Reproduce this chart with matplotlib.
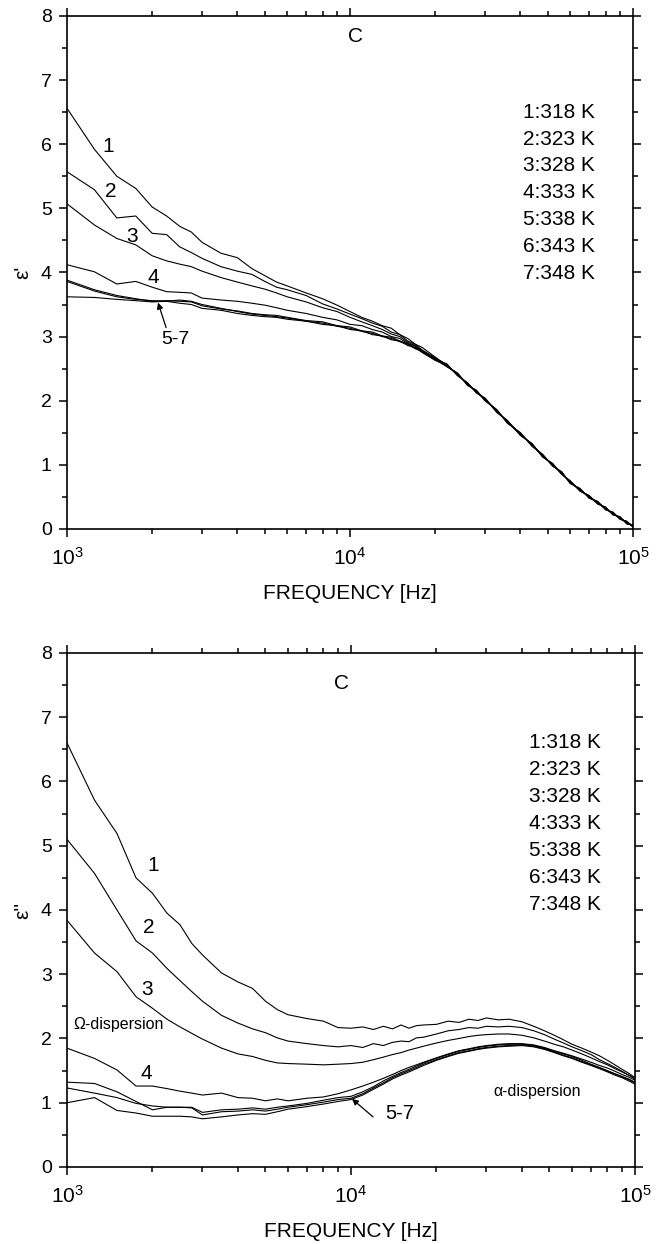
import matplotlib
matplotlib.use("Agg")
import matplotlib.pyplot as plt
from matplotlib.ticker import MultipleLocator, LogLocator, NullFormatter

plt.rcParams['font.family'] = ['Liberation Sans', 'DejaVu Sans']
plt.rcParams['mathtext.fontset'] = 'custom'
plt.rcParams['mathtext.rm'] = 'Liberation Sans'
plt.rcParams['mathtext.it'] = 'Liberation Sans:italic'

# ---------------- data ----------------
freq_head = [1000, 1250, 1500, 1750, 2000, 2250, 2500, 2750, 3000, 3500, 4000, 4500,
             5000, 5500, 6000, 7000, 8000, 9000, 10000, 11000, 12000, 13000, 14000,
             15000, 16000, 17000, 18000, 20000]
freq_tail = [22000, 24000, 26000, 28000, 30000, 33000, 36000, 40000, 44000, 48000,
             52000, 56000, 60000, 65000, 70000, 75000, 80000, 85000, 90000, 95000, 100000]

temps = ["1:318 K", "2:323 K", "3:328 K", "4:333 K", "5:338 K", "6:343 K", "7:348 K"]

# eps' (real part), low-frequency parts
re1 = [6.56, 5.92, 5.50, 5.31, 5.02, 4.88, 4.72, 4.63, 4.47, 4.30, 4.23, 4.06, 3.95, 3.85,
       3.79, 3.68, 3.59, 3.49, 3.39, 3.30, 3.24, 3.17, 3.13, 3.03, 2.97, 2.88, 2.83, 2.68]
re2 = [5.57, 5.29, 4.85, 4.88, 4.61, 4.59, 4.40, 4.31, 4.22, 4.09, 4.02, 3.97, 3.86, 3.77,
       3.73, 3.64, 3.51, 3.43, 3.35, 3.28, 3.21, 3.16, 3.07, 3.03, 2.93, 2.88, 2.79, 2.67]
re3 = [5.07, 4.74, 4.53, 4.43, 4.26, 4.18, 4.13, 4.09, 4.02, 3.92, 3.85, 3.79, 3.74, 3.68,
       3.62, 3.54, 3.45, 3.39, 3.30, 3.23, 3.17, 3.11, 3.04, 3.00, 2.91, 2.86, 2.77, 2.66]
re4 = [4.12, 4.01, 3.82, 3.86, 3.77, 3.70, 3.69, 3.68, 3.60, 3.57, 3.55, 3.52, 3.49, 3.45,
       3.41, 3.36, 3.30, 3.26, 3.19, 3.17, 3.11, 3.07, 3.00, 2.97, 2.89, 2.85, 2.76, 2.65]
re5 = [3.88, 3.73, 3.64, 3.59, 3.55, 3.56, 3.55, 3.54, 3.48, 3.43, 3.40, 3.36, 3.34, 3.33,
       3.30, 3.25, 3.23, 3.17, 3.15, 3.09, 3.07, 3.01, 2.99, 2.93, 2.89, 2.82, 2.78, 2.64]
re6 = [3.86, 3.71, 3.62, 3.58, 3.56, 3.55, 3.52, 3.50, 3.44, 3.41, 3.36, 3.33, 3.31, 3.30,
       3.27, 3.24, 3.19, 3.17, 3.11, 3.09, 3.03, 3.01, 2.95, 2.93, 2.86, 2.83, 2.75, 2.63]
re7 = [3.62, 3.61, 3.58, 3.56, 3.54, 3.55, 3.57, 3.55, 3.50, 3.44, 3.39, 3.35, 3.33, 3.31,
       3.29, 3.24, 3.21, 3.16, 3.13, 3.08, 3.05, 3.00, 2.97, 2.92, 2.88, 2.81, 2.77, 2.63]
# eps' high-frequency parts (curves merge)
re_tail_a = [2.55, 2.41, 2.26, 2.14, 2.02, 1.84, 1.67, 1.48, 1.31, 1.14, 1.00, 0.87, 0.73,
             0.61, 0.50, 0.41, 0.32, 0.24, 0.17, 0.10, 0.05]
re_tail_b = [2.53, 2.43, 2.24, 2.16, 2.00, 1.86, 1.65, 1.50, 1.29, 1.16, 0.98, 0.89, 0.71,
             0.63, 0.48, 0.43, 0.30, 0.26, 0.15, 0.12, 0.03]
re_tail_c = [2.57, 2.39, 2.28, 2.12, 2.04, 1.82, 1.69, 1.46, 1.33, 1.12, 1.02, 0.85, 0.75,
             0.59, 0.52, 0.39, 0.34, 0.22, 0.19, 0.08, 0.06]

# eps'' (imaginary part), full frequency range (head + tail grid)
im1 = [6.60, 5.71, 5.19, 4.50, 4.26, 3.95, 3.77, 3.48, 3.30, 3.02, 2.88, 2.78, 2.58, 2.45,
       2.37, 2.31, 2.27, 2.17, 2.16, 2.18, 2.14, 2.19, 2.15, 2.21, 2.16, 2.20, 2.21, 2.22,
       2.27, 2.25, 2.30, 2.28, 2.32, 2.29, 2.30, 2.26, 2.19, 2.12, 2.05, 1.98, 1.91, 1.85,
       1.79, 1.73, 1.66, 1.59, 1.52, 1.46, 1.39]
im2 = [5.10, 4.57, 4.00, 3.52, 3.33, 3.09, 2.90, 2.73, 2.58, 2.36, 2.24, 2.15, 2.09, 2.01,
       1.96, 1.92, 1.89, 1.87, 1.89, 1.86, 1.92, 1.89, 1.94, 1.96, 1.95, 2.01, 2.02, 2.07,
       2.12, 2.14, 2.17, 2.16, 2.19, 2.18, 2.19, 2.17, 2.12, 2.06, 1.99, 1.93, 1.87, 1.81,
       1.75, 1.67, 1.61, 1.55, 1.49, 1.43, 1.37]
im3 = [3.84, 3.33, 3.04, 2.65, 2.47, 2.30, 2.18, 2.08, 1.99, 1.85, 1.76, 1.72, 1.66, 1.62,
       1.61, 1.60, 1.59, 1.60, 1.61, 1.63, 1.67, 1.71, 1.75, 1.78, 1.82, 1.85, 1.88, 1.93,
       1.97, 2.00, 2.03, 2.05, 2.06, 2.07, 2.07, 2.05, 2.01, 1.96, 1.91, 1.87, 1.82, 1.76,
       1.70, 1.64, 1.59, 1.53, 1.48, 1.43, 1.38]
im4 = [1.85, 1.69, 1.51, 1.26, 1.26, 1.22, 1.18, 1.15, 1.12, 1.15, 1.08, 1.07, 1.03, 1.06,
       1.03, 1.07, 1.09, 1.14, 1.20, 1.26, 1.32, 1.38, 1.44, 1.50, 1.55, 1.59, 1.63, 1.70,
       1.76, 1.81, 1.84, 1.87, 1.89, 1.91, 1.92, 1.92, 1.90, 1.86, 1.81, 1.77, 1.73, 1.68,
       1.63, 1.58, 1.54, 1.49, 1.44, 1.40, 1.35]
im5 = [1.32, 1.30, 1.17, 1.02, 0.89, 0.93, 0.93, 0.93, 0.85, 0.89, 0.90, 0.92, 0.90, 0.93,
       0.95, 0.99, 1.04, 1.08, 1.10, 1.17, 1.25, 1.34, 1.41, 1.47, 1.52, 1.57, 1.62, 1.69,
       1.75, 1.80, 1.83, 1.86, 1.88, 1.90, 1.91, 1.91, 1.89, 1.85, 1.80, 1.76, 1.72, 1.66,
       1.60, 1.55, 1.50, 1.45, 1.41, 1.37, 1.32]
im6 = [1.23, 1.15, 1.08, 0.99, 0.95, 0.93, 0.93, 0.92, 0.81, 0.86, 0.87, 0.89, 0.87, 0.90,
       0.93, 0.97, 1.01, 1.05, 1.07, 1.14, 1.23, 1.31, 1.39, 1.45, 1.50, 1.55, 1.60, 1.67,
       1.73, 1.78, 1.81, 1.84, 1.86, 1.88, 1.89, 1.90, 1.88, 1.84, 1.79, 1.74, 1.70, 1.64,
       1.59, 1.54, 1.49, 1.45, 1.40, 1.36, 1.31]
im7 = [1.00, 1.08, 0.88, 0.84, 0.79, 0.79, 0.79, 0.78, 0.75, 0.78, 0.81, 0.83, 0.82, 0.86,
       0.90, 0.94, 0.98, 1.02, 1.05, 1.12, 1.21, 1.29, 1.37, 1.43, 1.48, 1.53, 1.58, 1.66,
       1.72, 1.77, 1.80, 1.83, 1.85, 1.87, 1.88, 1.89, 1.87, 1.83, 1.78, 1.73, 1.69, 1.63,
       1.58, 1.53, 1.48, 1.43, 1.39, 1.34, 1.29]

freq_all = freq_head + freq_tail
real_curves = [re1 + re_tail_a, re2 + re_tail_b, re3 + re_tail_c, re4 + re_tail_a,
               re5 + re_tail_b, re6 + re_tail_c, re7 + re_tail_a]
imag_curves = [im1, im2, im3, im4, im5, im6, im7]

# ---------------- figure ----------------
fig = plt.figure(figsize=(6.6, 12.44), dpi=100)
ax1 = fig.add_axes([0.1015, 0.5748, 0.8576, 0.4124])
ax2 = fig.add_axes([0.1015, 0.0619, 0.8606, 0.4132])


def style(ax):
    ax.set_xscale('log')
    ax.set_xlim(1e3, 1e5)
    ax.set_ylim(0, 8)
    ax.yaxis.set_major_locator(MultipleLocator(1))
    ax.yaxis.set_minor_locator(MultipleLocator(0.5))
    ax.xaxis.set_major_locator(LogLocator(base=10))
    ax.xaxis.set_minor_locator(LogLocator(base=10, subs=range(2, 10)))
    ax.xaxis.set_minor_formatter(NullFormatter())
    ax.tick_params(which='both', direction='out', top=True, right=True,
                   width=1.1, color='black')
    ax.tick_params(which='major', length=6, labelsize=14, pad=5)
    ax.tick_params(which='minor', length=3.5)
    ax.tick_params(axis='x', which='major', pad=7, labelsize=15)
    for s in ax.spines.values():
        s.set_linewidth(1.2)
    ax.set_xlabel('FREQUENCY [Hz]', fontsize=15, labelpad=11)


for ax, curves in ((ax1, real_curves), (ax2, imag_curves)):
    for vals in curves:
        ax.plot(freq_all, vals, color='black', lw=0.8)
    style(ax)

ax1.set_ylabel("ε'", fontsize=15, labelpad=6)
ax2.set_ylabel("ε''", fontsize=15, labelpad=6)

# ---- annotations top ----
fs = 15
ax1.text(1396, 5.96, '1', fontsize=fs, ha='center', va='center')
ax1.text(1430, 5.26, '2', fontsize=fs, ha='center', va='center')
ax1.text(1697, 4.56, '3', fontsize=fs, ha='center', va='center')
ax1.text(2014, 3.92, '4', fontsize=fs, ha='center', va='center')
ax1.text(2408, 2.95, '5-7', fontsize=14, ha='center', va='center')
ax1.annotate('', xy=(2097, 3.53), xytext=(2240, 3.14),
             arrowprops=dict(arrowstyle='-|>', color='black', lw=0.9,
                             mutation_scale=9, shrinkA=0, shrinkB=0))
ax1.text(10500, 7.68, 'C', fontsize=fs, ha='center', va='center')
for i, t in enumerate(temps):
    ax1.text(0.933, 0.8125 - i * 0.0525, t, transform=ax1.transAxes,
             fontsize=fs, ha='right', va='center')

# ---- annotations bottom ----
ax2.text(2014, 4.70, '1', fontsize=fs, ha='center', va='center')
ax2.text(1948, 3.72, '2', fontsize=fs, ha='center', va='center')
ax2.text(1917, 2.77, '3', fontsize=fs, ha='center', va='center')
ax2.text(1514, 2.21, 'Ω-dispersion', fontsize=11.5, ha='center', va='center')
ax2.text(1900, 1.46, '4', fontsize=fs, ha='center', va='center')
ax2.text(14900, 0.84, '5-7', fontsize=14.5, ha='center', va='center')
ax2.annotate('', xy=(10081, 1.06), xytext=(11960, 0.78),
             arrowprops=dict(arrowstyle='-|>', color='black', lw=0.9,
                             mutation_scale=9, shrinkA=0, shrinkB=0))
ax2.text(45100, 1.17, 'α-dispersion', fontsize=11.5, ha='center', va='center')
ax2.text(9230, 7.53, 'C', fontsize=fs, ha='center', va='center')
for i, t in enumerate(temps):
    ax2.text(0.940, 0.8250 - i * 0.0523, t, transform=ax2.transAxes,
             fontsize=fs, ha='right', va='center')

fig.savefig('out.png', dpi=100)
